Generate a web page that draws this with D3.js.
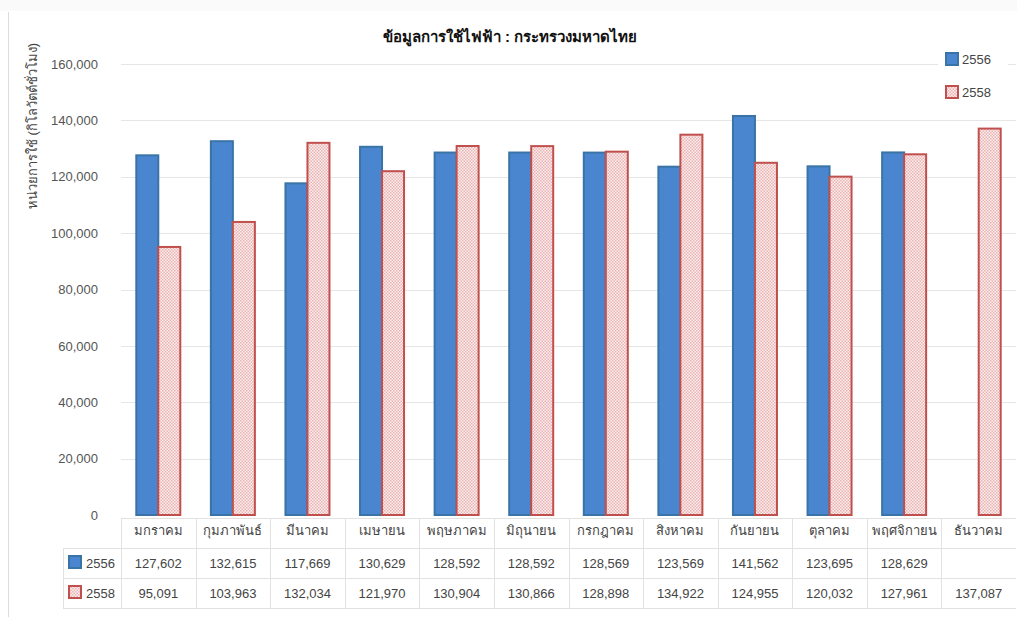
<!DOCTYPE html>
<html>
<head>
<meta charset="utf-8">
<script src="https://cdn.jsdelivr.net/npm/d3@7"></script>
<style>
  body { margin: 0; background: #fff; }
  text { font-family: "Liberation Sans", Arial, sans-serif; }
</style>
</head>
<body>
<script>
// data
var months = ["มกราคม", "กุมภาพันธ์", "มีนาคม", "เมษายน", "พฤษภาคม", "มิถุนายน",
              "กรกฎาคม", "สิงหาคม", "กันยายน", "ตุลาคม", "พฤศจิกายน", "ธันวาคม"];
var seriesNames = ["2556", "2558"];
var values2556 = [127602, 132615, 117669, 130629, 128592, 128592, 128569, 123569, 141562, 123695, 128629, null];
var values2558 = [95091, 103963, 132034, 121970, 130904, 130866, 128898, 134922, 124955, 120032, 127961, 137087];
var yTicks = [0, 20000, 40000, 60000, 80000, 100000, 120000, 140000, 160000];

var W = 1017, H = 617;
var plotLeft = 121, plotRight = 1016, plotTop = 64, plotBottom = 515;

var svg = d3.select("body").append("svg")
    .attr("width", W)
    .attr("height", H);

// checker pattern for 2558
var defs = svg.append("defs");
var pat = defs.append("pattern")
    .attr("id", "checker")
    .attr("width", 3).attr("height", 3)
    .attr("patternUnits", "userSpaceOnUse");
pat.append("rect").attr("width", 3).attr("height", 3).attr("fill", "#fcefef");
pat.append("rect").attr("width", 1.5).attr("height", 1.5).attr("fill", "#ebb4b4");
pat.append("rect").attr("x", 1.5).attr("y", 1.5).attr("width", 1.5).attr("height", 1.5).attr("fill", "#ebb4b4");

var fills = ["#4a86cf", "url(#checker)"];
var strokes = ["#3a74a6", "#c0504d"];

// frame
svg.append("rect").attr("x", 0).attr("y", 0).attr("width", W).attr("height", 11)
    .attr("fill", "#fafafa");
svg.append("line").attr("x1", 8.5).attr("x2", 8.5).attr("y1", 12).attr("y2", H)
    .attr("stroke", "#dcdcdc");

var x0 = d3.scaleBand().domain(months).range([plotLeft, plotRight]).paddingInner(0.41).paddingOuter(0.205);
var xCol = d3.scaleBand().domain(months).range([plotLeft, plotRight]);
var x1 = d3.scaleBand().domain(seriesNames).range([0, x0.bandwidth()]);
var y = d3.scaleLinear().domain([0, 160000]).range([plotBottom, plotTop]);

// grid lines
svg.append("g").selectAll("line")
    .data(yTicks.slice(1))
    .enter().append("line")
    .attr("x1", plotLeft).attr("x2", plotRight)
    .attr("y1", function(d){ return Math.round(y(d)) + 0.5; })
    .attr("y2", function(d){ return Math.round(y(d)) + 0.5; })
    .attr("stroke", "#e6e6e6");

// y axis
var yAxis = svg.append("g")
    .attr("transform", "translate(" + (plotLeft - 20) + ",0)")
    .call(d3.axisLeft(y).tickValues(yTicks).tickSize(0).tickFormat(d3.format(",")));
yAxis.select(".domain").remove();
yAxis.selectAll("text")
    .attr("fill", "#555")
    .style("font-size", "13px");

svg.append("text")
    .attr("transform", "translate(37,126) rotate(-90)")
    .attr("text-anchor", "middle")
    .attr("fill", "#444")
    .style("font-size", "13px")
    .text("หน่วยการใช้ (กิโลวัตต์ชั่วโมง)");

// title
svg.append("text")
    .attr("x", 510).attr("y", 42)
    .attr("text-anchor", "middle")
    .attr("fill", "#111")
    .style("font-size", "15px")
    .style("font-weight", "bold")
    .text("ข้อมูลการใช้ไฟฟ้า : กระทรวงมหาดไทย");

// bars
var allSeries = [values2556, values2558];
allSeries.forEach(function(vals, si) {
    svg.append("g").selectAll("rect")
        .data(months.map(function(m, i){ return {m: m, v: vals[i]}; }).filter(function(d){ return d.v != null; }))
        .enter().append("rect")
        .attr("x", function(d){ return x0(d.m) + x1(seriesNames[si]); })
        .attr("y", function(d){ return y(d.v); })
        .attr("width", x1.bandwidth())
        .attr("height", function(d){ return plotBottom - y(d.v); })
        .attr("fill", fills[si])
        .attr("stroke", strokes[si])
        .attr("stroke-width", 2);
});

// legend
var legend = svg.append("g");
legend.append("rect").attr("x", 938).attr("y", 48).attr("width", 70).attr("height", 58).attr("fill", "#fff");
seriesNames.forEach(function(s, i) {
    var ly = 53 + i * 33;
    legend.append("rect")
        .attr("x", 946).attr("y", ly).attr("width", 12).attr("height", 12)
        .attr("fill", fills[i]).attr("stroke", strokes[i]).attr("stroke-width", 2);
    legend.append("text")
        .attr("x", 962).attr("y", ly + 11)
        .attr("fill", "#444")
        .style("font-size", "13px")
        .text(s);
});

// data table
var tLeft = 63;
var rowY = [518, 548, 578, 608];
var table = svg.append("g");
var gridColor = "#e2e2e2";
rowY.forEach(function(ry, i) {
    table.append("line")
        .attr("x1", i === 0 ? plotLeft : tLeft).attr("x2", plotRight)
        .attr("y1", ry + 0.5).attr("y2", ry + 0.5)
        .attr("stroke", gridColor);
});
table.append("line").attr("x1", tLeft + 0.5).attr("x2", tLeft + 0.5)
    .attr("y1", rowY[1]).attr("y2", rowY[3]).attr("stroke", gridColor);
months.forEach(function(m) {
    var cx = Math.round(xCol(m)) + 0.5;
    table.append("line").attr("x1", cx).attr("x2", cx)
        .attr("y1", rowY[0]).attr("y2", rowY[3]).attr("stroke", gridColor);
});

table.selectAll("text.month")
    .data(months)
    .enter().append("text")
    .attr("class", "month")
    .attr("x", function(d){ return xCol(d) + xCol.bandwidth() / 2; })
    .attr("y", 535)
    .attr("text-anchor", "middle")
    .attr("fill", "#444")
    .style("font-size", "13px")
    .text(function(d){ return d; });

allSeries.forEach(function(vals, si) {
    var ty = 568 + si * 30;
    table.append("rect")
        .attr("x", 69).attr("y", ty - 12).attr("width", 12).attr("height", 12)
        .attr("fill", fills[si]).attr("stroke", strokes[si]).attr("stroke-width", 2);
    table.append("text")
        .attr("x", 86).attr("y", ty)
        .attr("fill", "#444")
        .style("font-size", "13px")
        .text(seriesNames[si]);
    table.append("g").selectAll("text")
        .data(months.map(function(m, i){ return {m: m, v: vals[i]}; }).filter(function(d){ return d.v != null; }))
        .enter().append("text")
        .attr("x", function(d){ return xCol(d.m) + xCol.bandwidth() / 2; })
        .attr("y", ty)
        .attr("text-anchor", "middle")
        .attr("fill", "#444")
        .style("font-size", "13px")
        .text(function(d){ return d3.format(",")(d.v); });
});
</script>
</body>
</html>
